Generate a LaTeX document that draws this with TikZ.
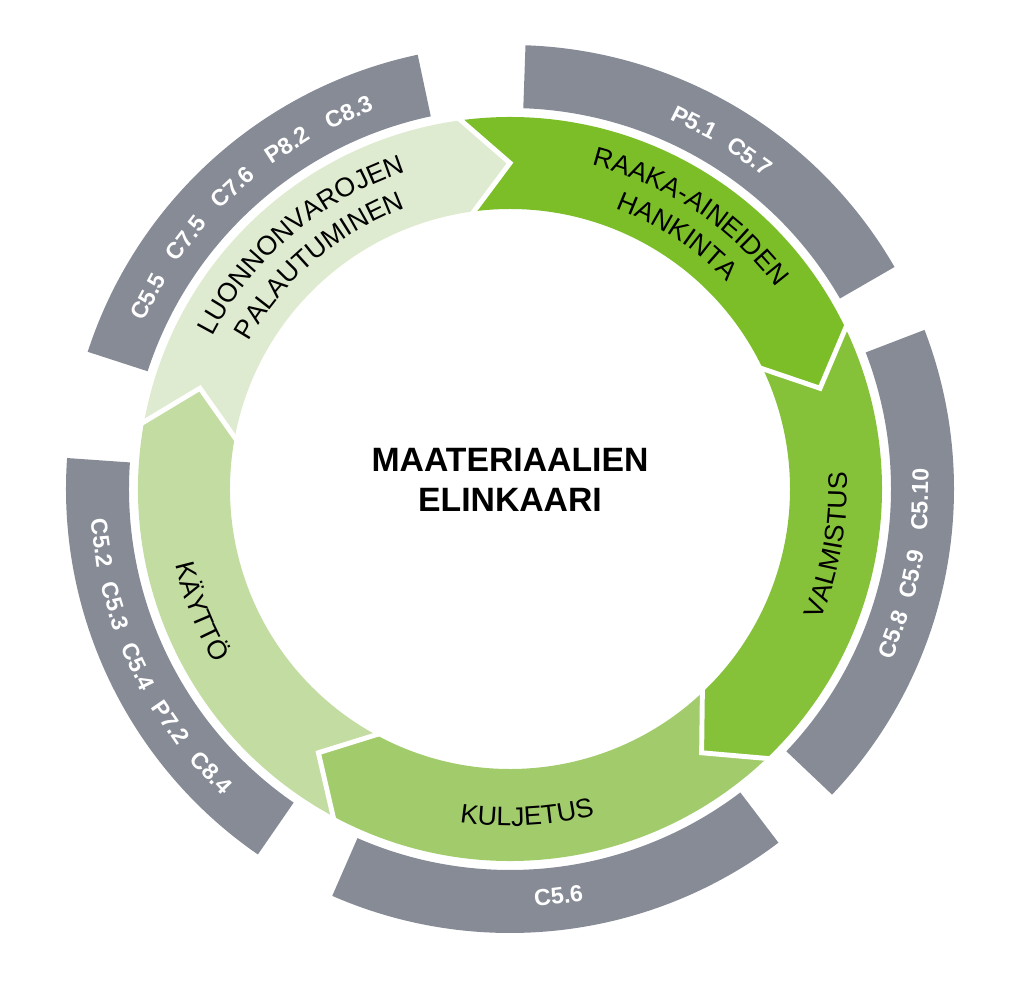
\documentclass[tikz,border=0pt]{standalone}
\usepackage{fontspec}
\setmainfont{Liberation Sans}
\usetikzlibrary{decorations.text}
\definecolor{raaka}{RGB}{123,190,40}
\definecolor{valm}{RGB}{134,193,58}
\definecolor{kulj}{RGB}{162,204,108}
\definecolor{kaytto}{RGB}{194,220,161}
\definecolor{luonto}{RGB}{223,235,208}
\definecolor{bargray}{RGB}{134,139,150}
\tikzset{
	stagetext/.style={decorate, decoration={text along path, text align=center, text={|\fontsize{19}{19}\selectfont|#1}}},
	codelabel/.style={inner sep=0pt, text=white, font=\fontsize{16.5}{18}\selectfont\bfseries},
	graybar/.style={fill=bargray},
	sepline/.style={draw=white, line width=3.5pt, line join=miter}
}
\begin{document}
\begin{tikzpicture}[x=0.025cm, y=0.025cm]
	\useasboundingbox (-510,-500) rectangle (514,489);

	% gray bars
	\fill[graybar] (102:381) -- (102:444) arc[start angle=102, end angle=162, radius=444] -- (162:381) arc[start angle=162, end angle=102, radius=381] -- cycle;
	\fill[graybar] (30:381) -- (30:444) arc[start angle=30, end angle=88, radius=444] -- (88:381) arc[start angle=88, end angle=30, radius=381] -- cycle;
	\fill[graybar] (-43.5:381) -- (-43.5:444) arc[start angle=-43.5, end angle=21, radius=444] -- (21:381) arc[start angle=21, end angle=-43.5, radius=381] -- cycle;
	\fill[graybar] (-113.6:381) -- (-113.6:444) arc[start angle=-113.6, end angle=-52.8, radius=444] -- (-52.8:381) arc[start angle=-52.8, end angle=-113.6, radius=381] -- cycle;
	\fill[graybar] (176:381) -- (176:444) arc[start angle=176, end angle=235.4, radius=444] -- (235.4:381) arc[start angle=235.4, end angle=176, radius=381] -- cycle;

	% ring arrows
	\fill[raaka] (98:372) arc[start angle=98, end angle=26, radius=372] -- (18:326) -- (26:280) arc[start angle=26, end angle=98, radius=280] -- (90:326) -- cycle;
	\fill[valm] (26:372) arc[start angle=26, end angle=-46, radius=372] -- (-54:326) -- (-46:280) arc[start angle=-46, end angle=26, radius=280] -- (18:326) -- cycle;
	\fill[kulj] (314:372) arc[start angle=314, end angle=242, radius=372] -- (234:326) -- (242:280) arc[start angle=242, end angle=314, radius=280] -- (306:326) -- cycle;
	\fill[kaytto] (242:372) arc[start angle=242, end angle=170, radius=372] -- (162:326) -- (170:280) arc[start angle=170, end angle=242, radius=280] -- (234:326) -- cycle;
	\fill[luonto] (170:372) arc[start angle=170, end angle=98, radius=372] -- (90:326) -- (98:280) arc[start angle=98, end angle=170, radius=280] -- (162:326) -- cycle;

	\draw[sepline] (98:375) -- (90:326) -- (98:277);
	\draw[sepline] (26:375) -- (18:326) -- (26:277);
	\draw[sepline] (-46:375) -- (-54:326) -- (-46:277);
	\draw[sepline] (242:375) -- (234:326) -- (242:277);
	\draw[sepline] (170:375) -- (162:326) -- (170:277);

	% stage names
	\path[stagetext={LUONNONVAROJEN}] (168:334) arc[start angle=168, end angle=93, radius=334];
	\path[stagetext={PALAUTUMINEN}] (168:300) arc[start angle=168, end angle=93, radius=300];
	\path[stagetext={RAAKA-AINEIDEN}] (94:334) arc[start angle=94, end angle=19, radius=334];
	\path[stagetext={HANKINTA}] (94:300) arc[start angle=94, end angle=19, radius=300];
	\path[stagetext={VALMISTUS}] (-40:337) arc[start angle=-40, end angle=20, radius=337];
	\path[stagetext={KULJETUS}] (-117:337) arc[start angle=-117, end angle=-57, radius=337];
	\path[stagetext={KÄYTTÖ}] (171.7:343) arc[start angle=171.7, end angle=231.7, radius=343];

	% codes
	\node[codelabel, rotate=62] at (152:410) (c55) {C5.5};
	\node[codelabel, rotate=52.3] at (142.3:410) (c75) {C7.5};
	\node[codelabel, rotate=42.6] at (132.6:410) (c76) {C7.6};
	\node[codelabel, rotate=32.9] at (122.9:410) (p82) {P8.2};
	\node[codelabel, rotate=23.2] at (113.2:410) (c83) {C8.3};

	\node[codelabel, rotate=-26.7] at (63.3:410) (p51) {P5.1};
	\node[codelabel, rotate=-35.8] at (54.2:410) (c57) {C5.7};

	\node[codelabel, rotate=69.2] at (-20.8:410) (c58) {C5.8};
	\node[codelabel, rotate=78] at (-12:410) (c59) {C5.9};
	\node[codelabel, rotate=88.5] at (-1.5:410) (c510) {C5.10};

	\node[codelabel, rotate=6.8] at (-83.2:410) (c56) {C5.6};

	\node[codelabel, rotate=277.5] at (187.5:412) (c52) {C5.2};
	\node[codelabel, rotate=286.5] at (196.5:412) (c53) {C5.3};
	\node[codelabel, rotate=295.5] at (205.5:412) (c54) {C5.4};
	\node[codelabel, rotate=304.5] at (214.5:412) (p72) {P7.2};
	\node[codelabel, rotate=313.5] at (223.5:412) (c84) {C8.4};

	\node[align=center, font=\fontsize{24}{28.5}\selectfont\bfseries] at (0,9) (title) {MAATERIAALIEN\\ELINKAARI};
\end{tikzpicture}
\end{document}
